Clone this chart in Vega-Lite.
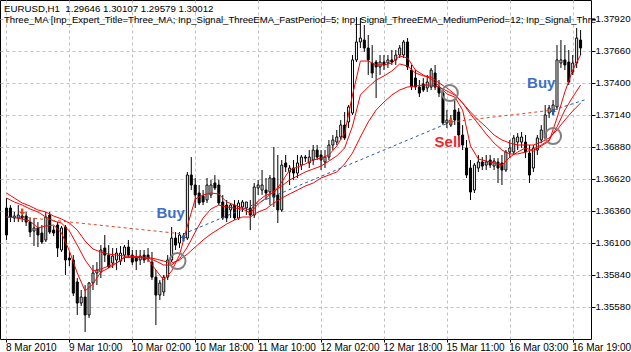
{
 "$schema": "https://vega.github.io/schema/vega-lite/v6.json",
 "width": 591, "height": 339,
 "autosize": {"type": "none"},
 "padding": {"left": 0, "top": 0, "right": 40, "bottom": 13},
 "background": "white",
 "title": {"text": "EURUSD,H1\u00a0 1.29646 1.30107 1.29579 1.30012", "subtitle": "Three_MA [Inp_Expert_Title=Three_MA; Inp_Signal_ThreeEMA_FastPeriod=5; Inp_Signal_ThreeEMA_MediumPeriod=12; Inp_Signal_Thre", "anchor": "start", "frame": "group", "orient": "top", "offset": 0, "baseline": "alphabetic", "dx": 4, "dy": 33, "limit": 700, "font": "Liberation Sans", "fontSize": 9.7, "fontWeight": "normal", "color": "black", "subtitleFont": "Liberation Sans", "subtitleFontSize": 9.55, "subtitleColor": "black", "subtitleFontWeight": "normal", "subtitlePadding": 2},
 "config": {
  "view": {"stroke": "black", "strokeWidth": 1},
  "axis": {"labelFont": "Liberation Sans", "labelFontSize": 10, "labelColor": "black", "tickColor": "black", "gridColor": "#c0c0c0", "gridDash": [3, 3], "gridWidth": 1, "domain": false, "title": null, "labelOverlap": false},
  "axisY": {"labelOverlap": false, "labelFontSize": 9.7}
 },
 "datasets": {
  "candles": [
{"i":0,"o":1.36384,"h":1.36465,"l":1.36124,"c":1.36165},
{"i":1,"o":1.36384,"h":1.36408,"l":1.36270,"c":1.36311},
{"i":2,"o":1.36303,"h":1.36352,"l":1.36270,"c":1.36319},
{"i":3,"o":1.36303,"h":1.36408,"l":1.36270,"c":1.36327},
{"i":4,"o":1.36319,"h":1.36352,"l":1.36270,"c":1.36303},
{"i":5,"o":1.36319,"h":1.36352,"l":1.36238,"c":1.36270},
{"i":6,"o":1.36270,"h":1.36303,"l":1.36148,"c":1.36189},
{"i":7,"o":1.36197,"h":1.36303,"l":1.36075,"c":1.36222},
{"i":8,"o":1.36222,"h":1.36270,"l":1.36067,"c":1.36165},
{"i":9,"o":1.36181,"h":1.36246,"l":1.36092,"c":1.36108},
{"i":10,"o":1.36124,"h":1.36352,"l":1.36108,"c":1.36311},
{"i":11,"o":1.36327,"h":1.36352,"l":1.36173,"c":1.36189},
{"i":12,"o":1.36205,"h":1.36238,"l":1.36156,"c":1.36181},
{"i":13,"o":1.36246,"h":1.36270,"l":1.35986,"c":1.36059},
{"i":14,"o":1.36043,"h":1.36238,"l":1.36027,"c":1.36222},
{"i":15,"o":1.36230,"h":1.36246,"l":1.35840,"c":1.35962},
{"i":16,"o":1.35978,"h":1.36027,"l":1.35913,"c":1.35962},
{"i":17,"o":1.35962,"h":1.36002,"l":1.35669,"c":1.35693},
{"i":18,"o":1.35783,"h":1.35815,"l":1.35515,"c":1.35612},
{"i":19,"o":1.35612,"h":1.35718,"l":1.35588,"c":1.35661},
{"i":20,"o":1.35661,"h":1.35758,"l":1.35377,"c":1.35515},
{"i":21,"o":1.35515,"h":1.35783,"l":1.35490,"c":1.35775},
{"i":22,"o":1.35775,"h":1.35921,"l":1.35718,"c":1.35856},
{"i":23,"o":1.35856,"h":1.35945,"l":1.35758,"c":1.35880},
{"i":24,"o":1.35864,"h":1.36083,"l":1.35815,"c":1.36043},
{"i":25,"o":1.36059,"h":1.36165,"l":1.35945,"c":1.36002},
{"i":26,"o":1.36002,"h":1.36083,"l":1.35897,"c":1.35905},
{"i":27,"o":1.35937,"h":1.36059,"l":1.35897,"c":1.35994},
{"i":28,"o":1.35962,"h":1.36059,"l":1.35880,"c":1.36018},
{"i":29,"o":1.35953,"h":1.36075,"l":1.35921,"c":1.36018},
{"i":30,"o":1.36002,"h":1.36083,"l":1.35945,"c":1.36067},
{"i":31,"o":1.36067,"h":1.36124,"l":1.35978,"c":1.36002},
{"i":32,"o":1.36002,"h":1.36043,"l":1.35921,"c":1.35945},
{"i":33,"o":1.35986,"h":1.36043,"l":1.35880,"c":1.35953},
{"i":34,"o":1.35962,"h":1.36043,"l":1.35921,"c":1.35994},
{"i":35,"o":1.36002,"h":1.36043,"l":1.35937,"c":1.35962},
{"i":36,"o":1.36002,"h":1.36059,"l":1.35945,"c":1.35978},
{"i":37,"o":1.35945,"h":1.36027,"l":1.35799,"c":1.35823},
{"i":38,"o":1.35823,"h":1.35880,"l":1.35433,"c":1.35677},
{"i":39,"o":1.35677,"h":1.35799,"l":1.35637,"c":1.35775},
{"i":40,"o":1.35702,"h":1.35840,"l":1.35669,"c":1.35823},
{"i":41,"o":1.35823,"h":1.36002,"l":1.35799,"c":1.35962},
{"i":42,"o":1.35962,"h":1.36230,"l":1.35945,"c":1.36140},
{"i":43,"o":1.36140,"h":1.36189,"l":1.36043,"c":1.36083},
{"i":44,"o":1.36100,"h":1.36189,"l":1.36059,"c":1.36165},
{"i":45,"o":1.36140,"h":1.36181,"l":1.36124,"c":1.36156},
{"i":46,"o":1.36140,"h":1.36677,"l":1.36124,"c":1.36652},
{"i":47,"o":1.36652,"h":1.36798,"l":1.36530,"c":1.36571},
{"i":48,"o":1.36571,"h":1.36628,"l":1.36384,"c":1.36490},
{"i":49,"o":1.36506,"h":1.36571,"l":1.36408,"c":1.36425},
{"i":50,"o":1.36482,"h":1.36530,"l":1.36408,"c":1.36433},
{"i":51,"o":1.36449,"h":1.36628,"l":1.36425,"c":1.36571},
{"i":52,"o":1.36490,"h":1.36612,"l":1.36465,"c":1.36571},
{"i":53,"o":1.36587,"h":1.36652,"l":1.36530,"c":1.36547},
{"i":54,"o":1.36571,"h":1.36612,"l":1.36408,"c":1.36425},
{"i":55,"o":1.36433,"h":1.36490,"l":1.36287,"c":1.36303},
{"i":56,"o":1.36408,"h":1.36449,"l":1.36270,"c":1.36303},
{"i":57,"o":1.36368,"h":1.36425,"l":1.36303,"c":1.36408},
{"i":58,"o":1.36408,"h":1.36449,"l":1.36287,"c":1.36303},
{"i":59,"o":1.36303,"h":1.36449,"l":1.36287,"c":1.36425},
{"i":60,"o":1.36392,"h":1.36449,"l":1.36352,"c":1.36433},
{"i":61,"o":1.36384,"h":1.36425,"l":1.36327,"c":1.36433},
{"i":62,"o":1.36384,"h":1.36449,"l":1.36205,"c":1.36327},
{"i":63,"o":1.36327,"h":1.36587,"l":1.36303,"c":1.36555},
{"i":64,"o":1.36547,"h":1.36612,"l":1.36490,"c":1.36571},
{"i":65,"o":1.36530,"h":1.36693,"l":1.36490,"c":1.36571},
{"i":66,"o":1.36530,"h":1.36628,"l":1.36449,"c":1.36506},
{"i":67,"o":1.36514,"h":1.36652,"l":1.36408,"c":1.36628},
{"i":68,"o":1.36628,"h":1.36880,"l":1.36392,"c":1.36473},
{"i":69,"o":1.36490,"h":1.36815,"l":1.36262,"c":1.36368},
{"i":70,"o":1.36368,"h":1.36774,"l":1.36352,"c":1.36733},
{"i":71,"o":1.36750,"h":1.36815,"l":1.36677,"c":1.36717},
{"i":72,"o":1.36677,"h":1.36733,"l":1.36571,"c":1.36709},
{"i":73,"o":1.36709,"h":1.36774,"l":1.36612,"c":1.36668},
{"i":74,"o":1.36668,"h":1.36815,"l":1.36628,"c":1.36750},
{"i":75,"o":1.36733,"h":1.36815,"l":1.36693,"c":1.36798},
{"i":76,"o":1.36798,"h":1.36815,"l":1.36758,"c":1.36790},
{"i":77,"o":1.36750,"h":1.36855,"l":1.36709,"c":1.36798},
{"i":78,"o":1.36774,"h":1.36896,"l":1.36733,"c":1.36855},
{"i":79,"o":1.36855,"h":1.36896,"l":1.36774,"c":1.36798},
{"i":80,"o":1.36815,"h":1.36855,"l":1.36693,"c":1.36774},
{"i":81,"o":1.36758,"h":1.36855,"l":1.36709,"c":1.36798},
{"i":82,"o":1.36798,"h":1.36937,"l":1.36774,"c":1.36896},
{"i":83,"o":1.36896,"h":1.36977,"l":1.36855,"c":1.36937},
{"i":84,"o":1.36920,"h":1.37018,"l":1.36896,"c":1.36961},
{"i":85,"o":1.36961,"h":1.37099,"l":1.36937,"c":1.37058},
{"i":86,"o":1.37058,"h":1.37164,"l":1.36937,"c":1.36953},
{"i":87,"o":1.37083,"h":1.37221,"l":1.37034,"c":1.37205},
{"i":88,"o":1.37156,"h":1.37627,"l":1.37140,"c":1.37587},
{"i":89,"o":1.37587,"h":1.37936,"l":1.37570,"c":1.37733},
{"i":90,"o":1.37733,"h":1.37928,"l":1.37684,"c":1.37765},
{"i":91,"o":1.37749,"h":1.37871,"l":1.37652,"c":1.37684},
{"i":92,"o":1.37684,"h":1.37790,"l":1.37465,"c":1.37587},
{"i":93,"o":1.37562,"h":1.37708,"l":1.37440,"c":1.37481},
{"i":94,"o":1.37570,"h":1.37587,"l":1.37278,"c":1.37530},
{"i":95,"o":1.37530,"h":1.37627,"l":1.37465,"c":1.37570},
{"i":96,"o":1.37570,"h":1.37627,"l":1.37505,"c":1.37546},
{"i":97,"o":1.37562,"h":1.37627,"l":1.37522,"c":1.37587},
{"i":98,"o":1.37587,"h":1.37668,"l":1.37546,"c":1.37570},
{"i":99,"o":1.37587,"h":1.37668,"l":1.37546,"c":1.37627},
{"i":100,"o":1.37627,"h":1.37708,"l":1.37603,"c":1.37684},
{"i":101,"o":1.37627,"h":1.37749,"l":1.37603,"c":1.37733},
{"i":102,"o":1.37733,"h":1.37765,"l":1.37505,"c":1.37530},
{"i":103,"o":1.37505,"h":1.37546,"l":1.37343,"c":1.37367},
{"i":104,"o":1.37440,"h":1.37505,"l":1.37343,"c":1.37367},
{"i":105,"o":1.37367,"h":1.37424,"l":1.37286,"c":1.37318},
{"i":106,"o":1.37392,"h":1.37440,"l":1.37327,"c":1.37343},
{"i":107,"o":1.37359,"h":1.37465,"l":1.37327,"c":1.37408},
{"i":108,"o":1.37367,"h":1.37522,"l":1.37343,"c":1.37505},
{"i":109,"o":1.37481,"h":1.37546,"l":1.37343,"c":1.37367},
{"i":110,"o":1.37367,"h":1.37424,"l":1.37286,"c":1.37318},
{"i":111,"o":1.37318,"h":1.37359,"l":1.37058,"c":1.37075},
{"i":112,"o":1.37075,"h":1.37180,"l":1.37034,"c":1.37099},
{"i":113,"o":1.37058,"h":1.37140,"l":1.37042,"c":1.37099},
{"i":114,"o":1.37180,"h":1.37262,"l":1.37058,"c":1.37099},
{"i":115,"o":1.37164,"h":1.37196,"l":1.36937,"c":1.36977},
{"i":116,"o":1.36977,"h":1.37058,"l":1.36855,"c":1.36896},
{"i":117,"o":1.36872,"h":1.36937,"l":1.36628,"c":1.36652},
{"i":118,"o":1.36709,"h":1.36774,"l":1.36449,"c":1.36514},
{"i":119,"o":1.36530,"h":1.36750,"l":1.36506,"c":1.36733},
{"i":120,"o":1.36709,"h":1.36815,"l":1.36677,"c":1.36758},
{"i":121,"o":1.36758,"h":1.36798,"l":1.36693,"c":1.36725},
{"i":122,"o":1.36733,"h":1.36815,"l":1.36693,"c":1.36758},
{"i":123,"o":1.36774,"h":1.36815,"l":1.36709,"c":1.36733},
{"i":124,"o":1.36725,"h":1.36790,"l":1.36693,"c":1.36766},
{"i":125,"o":1.36758,"h":1.36790,"l":1.36587,"c":1.36709},
{"i":126,"o":1.36750,"h":1.36815,"l":1.36571,"c":1.36693},
{"i":127,"o":1.36693,"h":1.36855,"l":1.36677,"c":1.36839},
{"i":128,"o":1.36839,"h":1.36937,"l":1.36790,"c":1.36872},
{"i":129,"o":1.36839,"h":1.36977,"l":1.36815,"c":1.36953},
{"i":130,"o":1.36920,"h":1.36993,"l":1.36855,"c":1.36961},
{"i":131,"o":1.36920,"h":1.37002,"l":1.36872,"c":1.36961},
{"i":132,"o":1.36920,"h":1.36977,"l":1.36790,"c":1.36839},
{"i":133,"o":1.36831,"h":1.36896,"l":1.36587,"c":1.36652},
{"i":134,"o":1.36709,"h":1.36896,"l":1.36677,"c":1.36872},
{"i":135,"o":1.36855,"h":1.36977,"l":1.36815,"c":1.36953},
{"i":136,"o":1.36937,"h":1.37058,"l":1.36912,"c":1.37018},
{"i":137,"o":1.36953,"h":1.37221,"l":1.36937,"c":1.37140},
{"i":138,"o":1.37156,"h":1.37221,"l":1.37115,"c":1.37197},
{"i":139,"o":1.37164,"h":1.37262,"l":1.37140,"c":1.37221},
{"i":140,"o":1.37205,"h":1.37708,"l":1.37180,"c":1.37587},
{"i":141,"o":1.37562,"h":1.37749,"l":1.37522,"c":1.37587},
{"i":142,"o":1.37587,"h":1.37708,"l":1.37505,"c":1.37546},
{"i":143,"o":1.37570,"h":1.37668,"l":1.37383,"c":1.37408},
{"i":144,"o":1.37489,"h":1.37627,"l":1.37465,"c":1.37562},
{"i":145,"o":1.37562,"h":1.37847,"l":1.37522,"c":1.37765},
{"i":146,"o":1.37749,"h":1.37830,"l":1.37627,"c":1.37684}
  ],
  "ema": [
{"i":0,"fast":1.36311,"medium":1.36465,"slow":1.36506},
{"i":2,"fast":1.36307,"medium":1.36433,"slow":1.36465},
{"i":4,"fast":1.36295,"medium":1.36408,"slow":1.36425},
{"i":6,"fast":1.36278,"medium":1.36376,"slow":1.36400},
{"i":8,"fast":1.36222,"medium":1.36352,"slow":1.36368},
{"i":10,"fast":1.36238,"medium":1.36311,"slow":1.36352},
{"i":12,"fast":1.36246,"medium":1.36278,"slow":1.36319},
{"i":14,"fast":1.36181,"medium":1.36262,"slow":1.36295},
{"i":16,"fast":1.36035,"medium":1.36197,"slow":1.36262},
{"i":18,"fast":1.35856,"medium":1.36083,"slow":1.36205},
{"i":20,"fast":1.35710,"medium":1.35962,"slow":1.36116},
{"i":22,"fast":1.35767,"medium":1.35872,"slow":1.36051},
{"i":24,"fast":1.35864,"medium":1.35888,"slow":1.36027},
{"i":26,"fast":1.35897,"medium":1.35913,"slow":1.36010},
{"i":28,"fast":1.35937,"medium":1.35937,"slow":1.36002},
{"i":30,"fast":1.35986,"medium":1.35982,"slow":1.35994},
{"i":32,"fast":1.35986,"medium":1.35986,"slow":1.35994},
{"i":34,"fast":1.35986,"medium":1.35982,"slow":1.35986},
{"i":36,"fast":1.35970,"medium":1.35978,"slow":1.35982},
{"i":38,"fast":1.35880,"medium":1.35953,"slow":1.35970},
{"i":40,"fast":1.35799,"medium":1.35921,"slow":1.35953},
{"i":42,"fast":1.35872,"medium":1.35921,"slow":1.35937},
{"i":44,"fast":1.36002,"medium":1.35970,"slow":1.35962},
{"i":46,"fast":1.36238,"medium":1.36067,"slow":1.36010},
{"i":48,"fast":1.36457,"medium":1.36189,"slow":1.36067},
{"i":50,"fast":1.36490,"medium":1.36303,"slow":1.36124},
{"i":52,"fast":1.36506,"medium":1.36376,"slow":1.36173},
{"i":54,"fast":1.36498,"medium":1.36408,"slow":1.36213},
{"i":56,"fast":1.36433,"medium":1.36392,"slow":1.36254},
{"i":58,"fast":1.36408,"medium":1.36384,"slow":1.36287},
{"i":60,"fast":1.36384,"medium":1.36376,"slow":1.36311},
{"i":62,"fast":1.36368,"medium":1.36343,"slow":1.36311},
{"i":64,"fast":1.36441,"medium":1.36417,"slow":1.36352},
{"i":66,"fast":1.36490,"medium":1.36465,"slow":1.36376},
{"i":68,"fast":1.36506,"medium":1.36522,"slow":1.36425},
{"i":70,"fast":1.36595,"medium":1.36563,"slow":1.36465},
{"i":72,"fast":1.36693,"medium":1.36612,"slow":1.36498},
{"i":74,"fast":1.36717,"medium":1.36644,"slow":1.36530},
{"i":76,"fast":1.36742,"medium":1.36677,"slow":1.36563},
{"i":78,"fast":1.36774,"medium":1.36701,"slow":1.36587},
{"i":80,"fast":1.36790,"medium":1.36725,"slow":1.36628},
{"i":82,"fast":1.36815,"medium":1.36766,"slow":1.36652},
{"i":84,"fast":1.36888,"medium":1.36807,"slow":1.36677},
{"i":86,"fast":1.36993,"medium":1.36872,"slow":1.36742},
{"i":88,"fast":1.37302,"medium":1.37050,"slow":1.36831},
{"i":90,"fast":1.37578,"medium":1.37302,"slow":1.36961},
{"i":92,"fast":1.37578,"medium":1.37367,"slow":1.37083},
{"i":94,"fast":1.37546,"medium":1.37424,"slow":1.37180},
{"i":96,"fast":1.37546,"medium":1.37457,"slow":1.37245},
{"i":98,"fast":1.37562,"medium":1.37497,"slow":1.37302},
{"i":100,"fast":1.37619,"medium":1.37554,"slow":1.37343},
{"i":102,"fast":1.37603,"medium":1.37538,"slow":1.37367},
{"i":104,"fast":1.37505,"medium":1.37481,"slow":1.37375},
{"i":106,"fast":1.37465,"medium":1.37457,"slow":1.37383},
{"i":108,"fast":1.37432,"medium":1.37448,"slow":1.37383},
{"i":110,"fast":1.37375,"medium":1.37400,"slow":1.37367},
{"i":112,"fast":1.37310,"medium":1.37359,"slow":1.37335},
{"i":114,"fast":1.37286,"medium":1.37310,"slow":1.37302},
{"i":116,"fast":1.37180,"medium":1.37237,"slow":1.37237},
{"i":118,"fast":1.36888,"medium":1.37148,"slow":1.37164},
{"i":120,"fast":1.36782,"medium":1.37067,"slow":1.37099},
{"i":122,"fast":1.36766,"medium":1.36985,"slow":1.37042},
{"i":124,"fast":1.36750,"medium":1.36912,"slow":1.36977},
{"i":126,"fast":1.36733,"medium":1.36855,"slow":1.36937},
{"i":128,"fast":1.36798,"medium":1.36823,"slow":1.36912},
{"i":130,"fast":1.36839,"medium":1.36823,"slow":1.36896},
{"i":132,"fast":1.36872,"medium":1.36839,"slow":1.36896},
{"i":134,"fast":1.36847,"medium":1.36863,"slow":1.36896},
{"i":136,"fast":1.36888,"medium":1.36896,"slow":1.36920},
{"i":138,"fast":1.36928,"medium":1.36937,"slow":1.36953},
{"i":140,"fast":1.37115,"medium":1.37042,"slow":1.37018},
{"i":142,"fast":1.37327,"medium":1.37180,"slow":1.37099},
{"i":144,"fast":1.37505,"medium":1.37286,"slow":1.37172},
{"i":146,"fast":1.37627,"medium":1.37383,"slow":1.37237}
  ],
  "trades": [
{"t":"b0","side":"buy","i":0,"p":1.36311},{"t":"b0","side":"buy","i":4,"p":1.36311},
{"t":"s1","side":"sell","i":4,"p":1.36311},{"t":"s1","side":"sell","i":45,"p":1.36173},
{"t":"b1","side":"buy","i":45,"p":1.36173},{"t":"b1","side":"buy","i":113,"p":1.37083},
{"t":"s2","side":"sell","i":113,"p":1.37083},{"t":"s2","side":"sell","i":139,"p":1.37180},
{"t":"b2","side":"buy","i":139,"p":1.37180},{"t":"b2","side":"buy","i":147,"p":1.37262}
  ],
  "arrows": [
{"side":"sell","i":4,"p":1.36352},
{"side":"buy","i":45,"p":1.36140},
{"side":"sell","i":113,"p":1.37091},
{"side":"buy","i":139,"p":1.37164}
  ],
  "circles": [
{"i":43.5,"p":1.35953},
{"i":112.75,"p":1.37318},
{"i":139,"p":1.36969}
  ],
  "labels": [
{"side":"buy","text":"Buy","i":41.75,"p":1.36343},
{"side":"sell","text":"Sell","i":112.25,"p":1.36920},
{"side":"buy","text":"Buy","i":136,"p":1.37400}
  ]
 },
 "layer": [
  {
   "data": {"name": "candles"},
   "mark": {"type": "rule", "color": "black", "strokeWidth": 1},
   "encoding": {
    "x": {"field": "i", "type": "quantitative", "scale": {"domain": [-0.375, 147.375], "nice": false, "zero": false},
     "axis": {"values": [0,16,32,48,64,80,96,112,128,144], "tickCount": 20, "labelExpr": "['8 Mar 2010','9 Mar 10:00','10 Mar 02:00','10 Mar 18:00','11 Mar 10:00','12 Mar 02:00','12 Mar 18:00','15 Mar 11:00','16 Mar 03:00','16 Mar 19:00'][round(datum.value/16)]", "labelAlign": "left", "labelBaseline": "top", "labelOffset": -1, "tickSize": 3, "labelPadding": 0, "grid": true, "labelFlush": false, "labelOverlap": false, "labelBound": false}},
    "y": {"field": "l", "type": "quantitative", "scale": {"domain": [1.3532, 1.38074], "nice": false, "zero": false},
     "axis": {"orient": "right", "values": [1.3558,1.3584,1.361,1.3636,1.3662,1.3688,1.3714,1.374,1.3766,1.3792], "tickCount": 20, "format": ".5f", "tickSize": 4, "labelPadding": 0, "labelFontSize": 9.7, "grid": true, "labelBaseline": "middle", "labelOverlap": false, "labelFlush": false, "labelBound": false}},
    "y2": {"field": "h"}
   }
  },
  {
   "data": {"name": "candles"},
   "mark": {"type": "bar", "size": 2, "stroke": "black", "strokeWidth": 1},
   "encoding": {
    "x": {"field": "i", "type": "quantitative"},
    "y": {"field": "o", "type": "quantitative"},
    "y2": {"field": "c"},
    "fill": {"condition": {"test": "datum.c > datum.o", "value": "white"}, "value": "black"}
   }
  },
  {
   "data": {"name": "ema"},
   "transform": [{"fold": ["fast", "medium", "slow"], "as": ["k", "v"]}],
   "mark": {"type": "line", "color": "#ff0000", "strokeWidth": 1},
   "encoding": {
    "x": {"field": "i", "type": "quantitative"},
    "y": {"field": "v", "type": "quantitative"},
    "detail": {"field": "k"}
   }
  },
  {
   "data": {"name": "trades"},
   "mark": {"type": "line", "strokeDash": [3, 3], "strokeWidth": 1},
   "encoding": {
    "x": {"field": "i", "type": "quantitative"},
    "y": {"field": "p", "type": "quantitative"},
    "detail": {"field": "t"},
    "color": {"field": "side", "type": "nominal", "scale": {"domain": ["buy", "sell"], "range": ["#1f5fae", "#e2461f"]}, "legend": null}
   }
  },
  {
   "data": {"name": "arrows"},
   "mark": {"type": "point", "filled": true, "size": 45, "opacity": 1},
   "encoding": {
    "x": {"field": "i", "type": "quantitative"},
    "y": {"field": "p", "type": "quantitative"},
    "shape": {"field": "side", "type": "nominal", "scale": {"domain": ["buy", "sell"], "range": ["M0,-1L0.9,0L0.35,0L0.35,1L-0.35,1L-0.35,0L-0.9,0Z", "M0,1L0.9,0L0.35,0L0.35,-1L-0.35,-1L-0.35,0L-0.9,0Z"]}, "legend": null},
    "color": {"field": "side", "type": "nominal", "legend": null}
   }
  },
  {
   "data": {"name": "circles"},
   "mark": {"type": "point", "shape": "circle", "filled": false, "size": 256, "stroke": "#808080", "strokeWidth": 2, "opacity": 1},
   "encoding": {
    "x": {"field": "i", "type": "quantitative"},
    "y": {"field": "p", "type": "quantitative"}
   }
  },
  {
   "data": {"name": "labels"},
   "mark": {"type": "text", "font": "Liberation Sans", "fontSize": 15, "fontWeight": "bold", "align": "center", "baseline": "middle"},
   "encoding": {
    "x": {"field": "i", "type": "quantitative"},
    "y": {"field": "p", "type": "quantitative"},
    "text": {"field": "text"},
    "color": {"condition": {"test": "datum.side == 'buy'", "value": "#3f6fc4"}, "value": "#ee2b2b"}
   }
  }
 ]
}
